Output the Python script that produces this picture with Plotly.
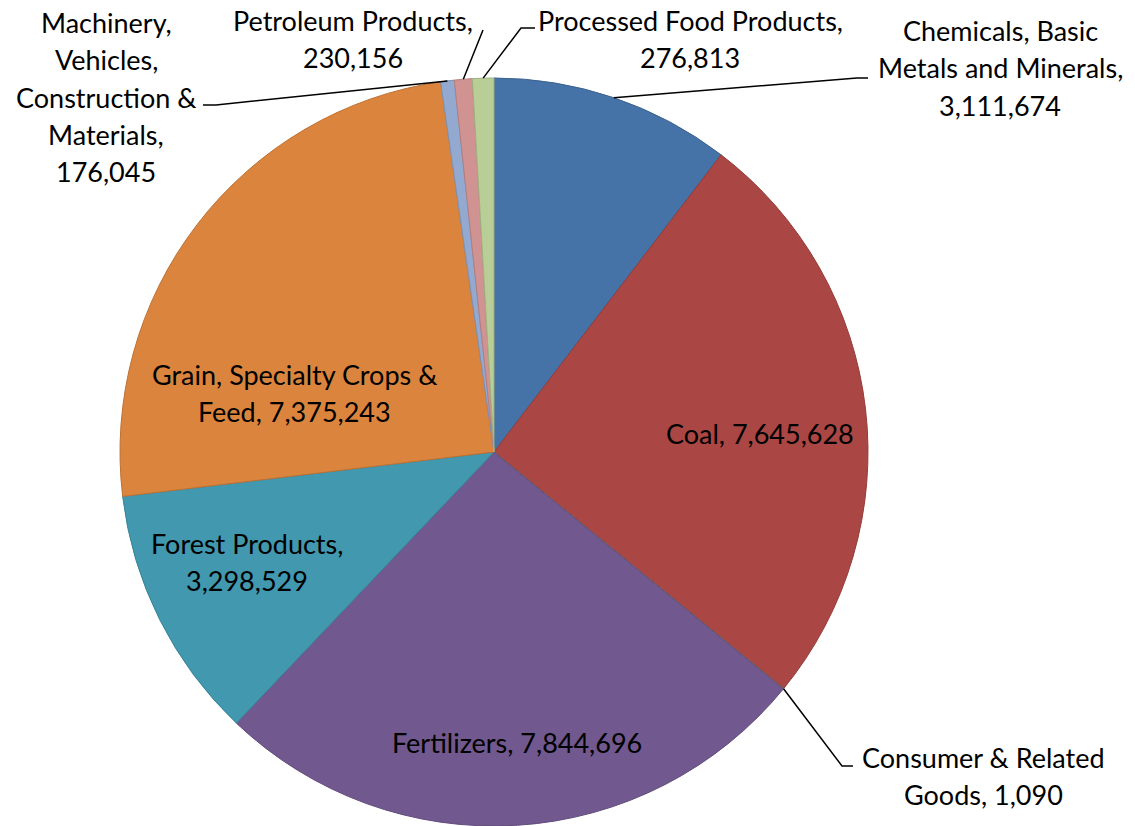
import math
import plotly.graph_objects as go

# ---- data ----
categories = [
    "Chemicals, Basic Metals and Minerals",
    "Coal",
    "Consumer & Related Goods",
    "Fertilizers",
    "Forest Products",
    "Grain, Specialty Crops & Feed",
    "Machinery, Vehicles, Construction & Materials",
    "Petroleum Products",
    "Processed Food Products",
]
values = [3111674, 7645628, 1090, 7844696, 3298529, 7375243, 176045, 230156, 276813]
label_lines = [
    ["Chemicals, Basic", "Metals and Minerals,", "3,111,674"],
    ["Coal, 7,645,628"],
    ["Consumer & Related", "Goods, 1,090"],
    ["Fertilizers, 7,844,696"],
    ["Forest Products,", "3,298,529"],
    ["Grain, Specialty Crops &", "Feed, 7,375,243"],
    ["Machinery,", "Vehicles,", "Construction &", "Materials,", "176,045"],
    ["Petroleum Products,", "230,156"],
    ["Processed Food Products,", "276,813"],
]

# ---- style / layout ----
W, H = 1135, 826
CX, CY, R = 494, 452, 374
colors = ["#4572A7", "#AA4643", "#89A54E", "#71588F", "#4198AF",
          "#DB843D", "#93A9CF", "#D19392", "#B9CD96"]
edge_colors = ["#3B6290", "#933C3A", "#768E43", "#614C7B", "#388396",
               "#BC7134", "#7F91B2", "#B47E7D", "#9FB081"]
FONT = "Lato"
FS = 27
LS = 37.5
# label placement: (center x, first line y, elbow point or None, line end point or None) in pixels
placement = [
    (1000, 30, (857, 78), (868, 78)),
    (760, 433, None, None),
    (983, 757, (842, 766), (853, 766)),
    (517, 742, None, None),
    (247, 543, None, None),
    (294, 374, None, None),
    (106, 22, (216, 105), (203, 105)),
    (353, 20, (483, 30), None),
    (690, 20, (521, 28), (535, 28)),
]


def px(x):
    return x / W


def py(y):
    return 1 - y / H


fig = go.Figure(go.Pie(
    labels=categories,
    values=values,
    sort=False,
    direction="clockwise",
    rotation=0,
    marker=dict(colors=colors, line=dict(color=edge_colors, width=1)),
    textinfo="none",
    hoverinfo="label+value",
    showlegend=False,
    domain=dict(x=[px(CX - R), px(CX + R)], y=[py(CY + R), py(CY - R)]),
))

total = sum(values)
cum = 0
annotations = []
shapes = []
for v, lines, (lx, ly, elbow, end) in zip(values, label_lines, placement):
    mid = (cum + v / 2) / total
    cum += v
    ang = 2 * math.pi * mid
    ax = CX + R * math.sin(ang)
    ay = CY - R * math.cos(ang)
    for i, t in enumerate(lines):
        annotations.append(dict(
            x=px(lx), y=py(ly + i * LS), xref="paper", yref="paper",
            text=t, showarrow=False, xanchor="center", yanchor="middle",
            font=dict(family=FONT, size=FS, color="#000000"),
        ))
    if elbow is not None:
        pts = [(ax, ay), elbow] + ([end] if end is not None else [])
        path = "M " + " L ".join(f"{px(x)},{py(y)}" for x, y in pts)
        shapes.append(dict(type="path", path=path, xref="paper", yref="paper",
                           line=dict(color="#000000", width=1.5)))

fig.update_layout(
    width=W, height=H,
    margin=dict(l=0, r=0, t=0, b=0),
    paper_bgcolor="white",
    plot_bgcolor="white",
    annotations=annotations,
    shapes=shapes,
)

fig.write_html(
    "out.html",
    config={"displayModeBar": False},
    post_script="document.body.style.margin='0';document.body.style.overflow='hidden';",
)
